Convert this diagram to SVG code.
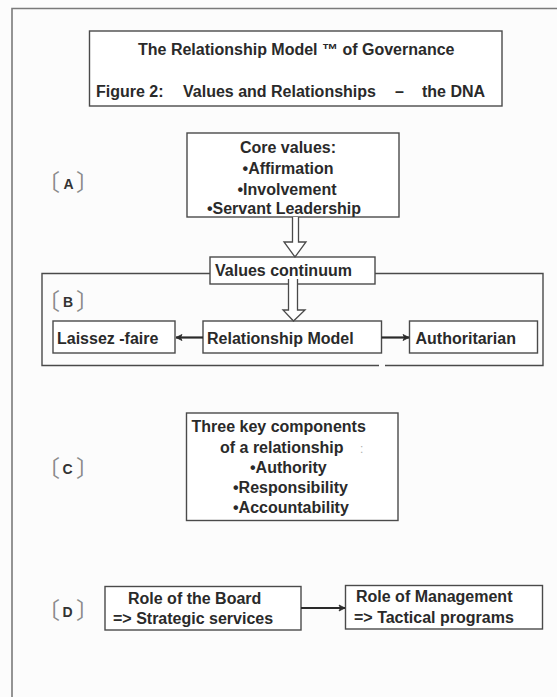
<svg xmlns="http://www.w3.org/2000/svg" width="557" height="697" viewBox="0 0 557 697">
<style>
.bg{fill:#fcfcfc}
.frame{stroke:#7a7a7a;stroke-width:1.6;fill:none}
.box{fill:#fff;stroke:#4a4a4a;stroke-width:1.4}
.t{font-family:"Liberation Sans",Arial,sans-serif;font-weight:bold;font-size:16px;fill:#2a2a2a}
.lbl{font-family:"Liberation Sans",Arial,sans-serif;font-weight:bold;font-size:14px;fill:#333}
.br{font-family:"Noto Sans CJK JP","Noto Sans",sans-serif;font-weight:normal;font-size:23px;fill:#8a8a8a}
.hollow{fill:#fff;stroke:#4a4a4a;stroke-width:1.3;stroke-linejoin:miter}
.line{stroke:#2a2a2a;stroke-width:2.2;fill:none}
</style>
<defs>
<marker id="ah" markerWidth="8" markerHeight="8" refX="7" refY="4" orient="auto" markerUnits="userSpaceOnUse">
<path d="M1,1 L7,4 L1,7 L2.5,4 Z" fill="#2a2a2a" stroke="#2a2a2a" stroke-width="0.8"/>
</marker>
</defs>
<rect class="bg" x="0" y="0" width="557" height="697"/>
<g id="frame">
<path class="frame" d="M12,697 L12,8.5 L557,8.5"/>
</g>
<g id="title">
<rect class="box" x="89.5" y="31" width="412.5" height="75"/>
<text class="t" x="138" y="55">The Relationship Model ™ of Governance</text>
<text class="t" y="97"><tspan x="96">Figure 2:</tspan><tspan x="183">Values and Relationships</tspan><tspan x="395">–</tspan><tspan x="422">the DNA</tspan></text>
</g>
<g id="labelA">
<text y="191"><tspan class="br" x="37">〔</tspan><tspan class="lbl" x="63.5" y="188.5">A</tspan><tspan class="br" x="76" y="191">〕</tspan></text>
</g>
<g id="core">
<rect class="box" x="187" y="133" width="212" height="84"/>
<text class="t" text-anchor="middle" x="288" y="153">Core values:</text>
<text class="t" text-anchor="middle" x="288" y="174">•Affirmation</text>
<text class="t" text-anchor="middle" x="287" y="195">•Involvement</text>
<text class="t" text-anchor="middle" x="284" y="214">•Servant Leadership</text>
</g>
<g id="container">
<path class="box" style="fill:none" d="M379,365.5 L42,365.5 L42,273.5 L543,273.5 L543,365.5 L385,365.5"/>
</g>
<g id="continuum">
<rect class="box" x="210" y="257" width="165" height="27"/>
<text class="t" x="215" y="276">Values continuum</text>
</g>
<g id="labelB">
<text y="309.5"><tspan class="br" x="37">〔</tspan><tspan class="lbl" x="63" y="306.5">B</tspan><tspan class="br" x="76" y="309.5">〕</tspan></text>
</g>
<g id="laissez">
<rect class="box" x="53" y="321" width="122" height="32"/>
<text class="t" x="57" y="344">Laissez -faire</text>
</g>
<g id="relmodel">
<rect class="box" x="203" y="321" width="178.5" height="32"/>
<text class="t" x="207" y="344">Relationship Model</text>
</g>
<g id="authoritarian">
<rect class="box" x="409.5" y="321" width="128" height="32"/>
<text class="t" x="415.5" y="344">Authoritarian</text>
</g>
<g id="labelC">
<text y="476.5"><tspan class="br" x="37">〔</tspan><tspan class="lbl" x="62.5" y="474">C</tspan><tspan class="br" x="76" y="476.5">〕</tspan></text>
</g>
<g id="components">
<rect class="box" x="186.5" y="413" width="211.5" height="107.5"/>
<text class="t" x="191.5" y="431.5">Three key components</text>
<text class="t" x="220" y="452.5">of a relationship</text>
<text class="t" x="360" y="452.5" style="fill:#b0b0b0;font-weight:normal;font-size:12px">:</text>
<text class="t" x="250" y="473">•Authority</text>
<text class="t" x="233" y="493">•Responsibility</text>
<text class="t" x="233" y="513">•Accountability</text>
</g>
<g id="labelD">
<text y="619"><tspan class="br" x="37">〔</tspan><tspan class="lbl" x="62.5" y="616.5">D</tspan><tspan class="br" x="76" y="619">〕</tspan></text>
</g>
<g id="board">
<rect class="box" x="105" y="586.5" width="196" height="43.5"/>
<text class="t" x="128" y="603.5">Role of the Board</text>
<text class="t" x="113" y="624">=&gt; Strategic services</text>
</g>
<g id="management">
<rect class="box" x="345.5" y="585.5" width="197" height="43.5"/>
<text class="t" x="356" y="602">Role of Management</text>
<text class="t" x="354" y="622.5">=&gt; Tactical programs</text>
</g>
<g id="connectors">
<path class="hollow" d="M292.5,217 L292.5,242 L284,242 L295,257 L306,242 L298.5,242 L298.5,217"/>
<path class="hollow" d="M288.5,279 L288.5,310 L283,310 L293.5,321 L305,310 L297.5,310 L297.5,279"/>
<path class="line" d="M203,337.5 L176,337.5" marker-end="url(#ah)"/>
<path class="line" d="M381.5,337.5 L409,337.5" marker-end="url(#ah)"/>
<path class="line" d="M301,608 L345,608" marker-end="url(#ah)"/>
</g>
</svg>
